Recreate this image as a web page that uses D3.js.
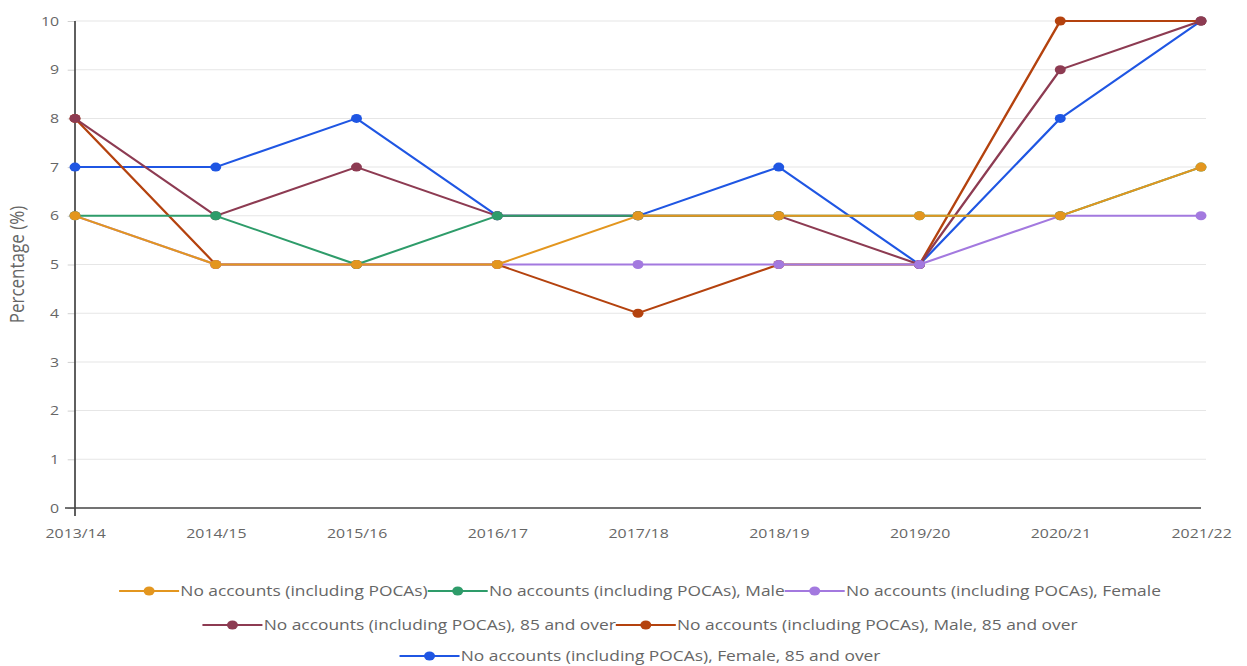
<!DOCTYPE html>
<html>
<head>
<meta charset="utf-8">
<script src="https://cdn.jsdelivr.net/npm/d3@7"></script>
<style>
  html, body { margin: 0; padding: 0; background: #ffffff; }
  svg { display: block; font-family: "Open Sans", sans-serif; }
</style>
</head>
<body>
<svg id="chart"></svg>
<script>
// Financial years on the x axis
const categories = ["2013/14", "2014/15", "2015/16", "2016/17", "2017/18", "2018/19", "2019/20", "2020/21", "2021/22"];

// Series labels and colours, in legend order
const seriesNames = [
  "No accounts (including POCAs)",
  "No accounts (including POCAs), Male",
  "No accounts (including POCAs), Female",
  "No accounts (including POCAs), 85 and over",
  "No accounts (including POCAs), Male, 85 and over",
  "No accounts (including POCAs), Female, 85 and over"
];
const seriesColors = ["#e3961f", "#2e9c6a", "#a379df", "#8d3b52", "#b4420e", "#1f56e3"];

// Percentage of people with no accounts
const allPeople    = [6, 5, 5, 5, 6, 6, 6, 6, 7];
const male         = [6, 6, 5, 6, 6, 6, 6, 6, 7];
const female       = [6, 5, 5, 5, 5, 5, 5, 6, 6];
const over85       = [8, 6, 7, 6, 6, 6, 5, 9, 10];
const maleOver85   = [8, 5, 5, 5, 4, 5, 5, 10, 10];
const femaleOver85 = [7, 7, 8, 6, 6, 7, 5, 8, 10];

const yTicks = [0, 1, 2, 3, 4, 5, 6, 7, 8, 9, 10];
const yTitle = "Percentage (%)";

const seriesValues = [allPeople, male, female, over85, maleOver85, femaleOver85];
const series = seriesNames.map((name, i) => ({
  name, color: seriesColors[i],
  values: categories.map((c, j) => ({ cat: c, v: seriesValues[i][j] }))
}));

// The drawing is laid out on a horizontally condensed canvas that is widened to the page.
const W = 1247, H = 666, S = 1.22;
const IW = W / S;
const px = v => v / S;

const svg = d3.select("#chart")
  .attr("width", W).attr("height", H)
  .attr("viewBox", `0 0 ${IW} ${H}`)
  .attr("preserveAspectRatio", "none");

const plotLeft = px(75), plotRight = px(1201), plotTop = 21, plotBottom = 508;

const x = d3.scalePoint().domain(categories).range([plotLeft, plotRight]);
const y = d3.scaleLinear().domain([0, 10]).range([plotBottom, plotTop]);

// Horizontal gridlines
svg.append("g")
  .selectAll("line").data(yTicks.filter(t => t !== 0)).join("line")
  .attr("x1", plotLeft).attr("x2", px(1206))
  .attr("y1", d => y(d)).attr("y2", d => y(d))
  .attr("stroke", "#e6e6e6").attr("stroke-width", 1);

// Y axis ticks and labels
const yAxis = svg.append("g")
  .attr("transform", `translate(${plotLeft},0)`)
  .call(d3.axisLeft(y).tickValues(yTicks).tickSize(6).tickPadding(7).tickFormat(d3.format("d")));
yAxis.select(".domain").remove();
yAxis.selectAll(".tick line").attr("stroke", "#d0d0d0");
yAxis.selectAll(".tick text").attr("fill", "#666").style("font-size", "13px").style("font-family", "Open Sans");

// X axis labels
const xAxis = svg.append("g")
  .attr("transform", `translate(0,${plotBottom})`)
  .call(d3.axisBottom(x).tickSize(0).tickPadding(21));
xAxis.select(".domain").remove();
xAxis.selectAll(".tick text").attr("fill", "#666").style("font-size", "13px").style("font-family", "Open Sans");

// Axis lines
svg.append("line")
  .attr("x1", plotLeft).attr("x2", plotLeft).attr("y1", plotTop).attr("y2", plotBottom + 8)
  .attr("stroke", "#444").attr("stroke-width", 1.4);
svg.append("line")
  .attr("x1", px(65)).attr("x2", plotRight).attr("y1", plotBottom).attr("y2", plotBottom)
  .attr("stroke", "#444").attr("stroke-width", 1.6);

// Y axis title
svg.append("text")
  .attr("transform", `translate(${px(17)},${(plotTop + plotBottom) / 2}) rotate(-90)`)
  .attr("text-anchor", "middle").attr("dy", "0.35em")
  .attr("fill", "#666").style("font-size", "17px")
  .text(yTitle);

// Lines and markers; the first series sits on top
const line = d3.line().x(d => x(d.cat)).y(d => y(d.v));
const drawOrder = series.slice().reverse();

const sg = svg.append("g").selectAll("g").data(drawOrder).join("g");
sg.append("path")
  .attr("d", d => line(d.values))
  .attr("fill", "none").attr("stroke", d => d.color).attr("stroke-width", 2)
  .attr("stroke-linejoin", "round");
sg.selectAll("circle").data(d => d.values.map(p => ({ ...p, color: d.color }))).join("circle")
  .attr("cx", d => x(d.cat)).attr("cy", d => y(d.v)).attr("r", 4.5)
  .attr("fill", d => d.color);

// Legend: symbol followed directly by its label, rows wrapped and centred
const symW = px(60);
const legendCenter = px(640);
const maxRow = px(1120);
const rowY = [591, 625, 656];

const legend = svg.append("g");
const items = series.map(s => {
  const g = legend.append("g");
  g.append("line").attr("x1", 0).attr("x2", symW).attr("y1", 0).attr("y2", 0)
    .attr("stroke", s.color).attr("stroke-width", 2);
  g.append("circle").attr("cx", symW / 2).attr("cy", 0).attr("r", 4.5).attr("fill", s.color);
  const t = g.append("text").attr("x", symW + 1).attr("dy", "0.35em")
    .attr("fill", "#666").style("font-size", "14.25px").text(s.name);
  return { g, w: symW + 1 + t.node().getComputedTextLength() };
});

const rows = [];
let cur = [], curW = 0;
items.forEach(it => {
  if (cur.length && curW + it.w > maxRow) { rows.push(cur); cur = []; curW = 0; }
  cur.push(it); curW += it.w;
});
if (cur.length) rows.push(cur);

rows.forEach((row, r) => {
  const total = d3.sum(row, d => d.w);
  let xx = legendCenter - total / 2;
  row.forEach(it => {
    it.g.attr("transform", `translate(${xx},${rowY[r]})`);
    xx += it.w;
  });
});
</script>
</body>
</html>
